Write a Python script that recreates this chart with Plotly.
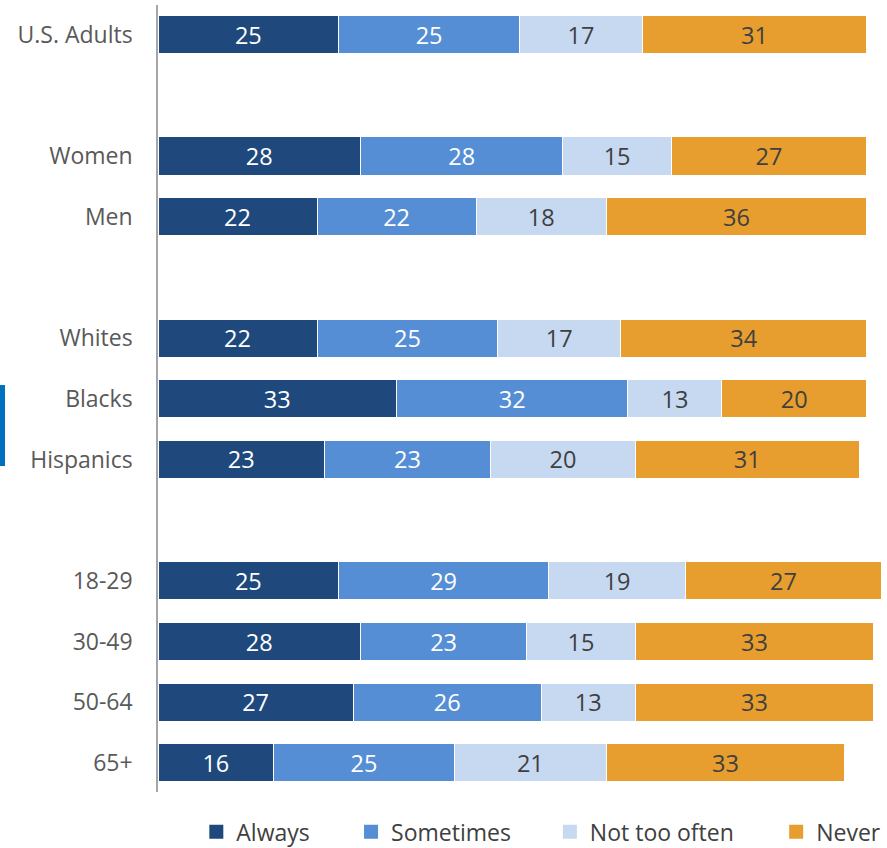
import plotly.graph_objects as go

categories = ["U.S. Adults", "Women", "Men", "Whites", "Blacks", "Hispanics",
              "18-29", "30-49", "50-64", "65+"]
row_pos = [0, 2, 3, 5, 6, 7, 9, 10, 11, 12]
always = [25, 28, 22, 22, 33, 23, 25, 28, 27, 16]
sometimes = [25, 28, 22, 25, 32, 23, 29, 23, 26, 25]
not_too_often = [17, 15, 18, 17, 13, 20, 19, 15, 13, 21]
never = [31, 27, 36, 34, 20, 31, 27, 33, 33, 33]

series = [
    ("Always", always, "#1F497D", "white", "legend", 0.053),
    ("Sometimes", sometimes, "#558ED5", "white", "legend2", 0.267),
    ("Not too often", not_too_often, "#C6D9F1", "#404040", "legend3", 0.542),
    ("Never", never, "#E89E2E", "#404040", "legend4", 0.855),
]

fig = go.Figure()
legend_layouts = {}
for name, vals, color, tcolor, leg, lx in series:
    fig.add_trace(go.Bar(
        name=name, y=row_pos, x=vals, orientation="h",
        marker=dict(color=color, line=dict(color="white", width=1)),
        text=[str(v) for v in vals], textposition="inside",
        insidetextanchor="middle",
        textfont=dict(color=tcolor, size=23.5, family="Open Sans"),
        width=0.63, showlegend=False,
    ))
    # legend-only entry with a larger square swatch
    fig.add_trace(go.Scatter(
        name=name, x=[None], y=[None], mode="markers",
        marker=dict(symbol="square", size=14, color=color),
        legend=leg, showlegend=True, hoverinfo="skip",
    ))
    legend_layouts[leg] = dict(
        orientation="h", x=lx, xanchor="left", y=-0.0505, yanchor="middle",
        font=dict(size=23, color="#404040", family="Open Sans"),
        itemwidth=30, bgcolor="rgba(0,0,0,0)",
    )

fig.update_layout(
    barmode="stack",
    width=887, height=848,
    margin=dict(l=158, r=6, t=5, b=56, autoexpand=False),
    plot_bgcolor="white", paper_bgcolor="white",
    font=dict(family="Open Sans", color="#595959", size=23),
    showlegend=True,
    uniformtext=dict(mode="show", minsize=10),
    **legend_layouts,
)
fig.update_xaxes(range=[0, 100], showticklabels=False, showgrid=False,
                 zeroline=False, showline=False)
fig.update_yaxes(tickvals=row_pos, ticktext=categories, range=[12.48, -0.49],
                 showgrid=False, zeroline=False, showline=True,
                 linecolor="#A6A6A6", linewidth=1.5, ticks="", ticklabelstandoff=19,
                 tickfont=dict(size=23, color="#595959"))

fig.add_shape(type="rect", xref="paper", yref="paper",
              x0=-158/723, x1=-153/723, y0=(792-466)/787, y1=(792-385)/787,
              fillcolor="#0070C0", line=dict(width=0))

fig.write_html("out.html", post_script="document.body.style.margin='0';",
               config={"displayModeBar": False})
